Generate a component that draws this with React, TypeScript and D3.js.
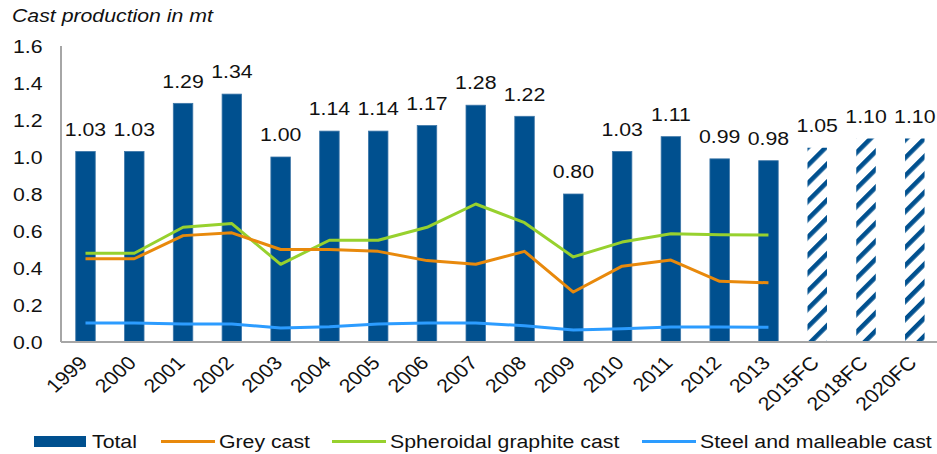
import React from "react";
import * as d3 from "d3";

const categories = ["1999","2000","2001","2002","2003","2004","2005","2006","2007","2008","2009","2010","2011","2012","2013","2015FC","2018FC","2020FC"];
const forecast = [false,false,false,false,false,false,false,false,false,false,false,false,false,false,false,true,true,true];
const total = [1.03,1.03,1.29,1.34,1.00,1.14,1.14,1.17,1.28,1.22,0.80,1.03,1.11,0.99,0.98,1.05,1.10,1.10];
const greyCast = [0.45,0.45,0.575,0.59,0.50,0.50,0.49,0.44,0.42,0.49,0.27,0.41,0.443,0.328,0.32];
const spheroidal = [0.48,0.48,0.62,0.64,0.42,0.55,0.55,0.62,0.746,0.645,0.46,0.54,0.585,0.58,0.578];
const steel = [0.103,0.103,0.097,0.097,0.076,0.083,0.097,0.103,0.103,0.088,0.065,0.072,0.081,0.081,0.08];
const yTicks = [0,0.2,0.4,0.6,0.8,1.0,1.2,1.4,1.6];
const title = "Cast production in mt";
const legendLabels = ["Total","Grey cast","Spheroidal graphite cast","Steel and malleable cast"];

const W = 937, H = 454;
const FONT = "'Liberation Sans', Arial, sans-serif";
const FS = 19;
const SX = 1.12;
const BAR = "#00508F";
const C_GREY = "#E8890C";
const C_SPH = "#97D12E";
const C_STEEL = "#2C9CFF";
const AXIS = "#A6A6A6";

function T({ x, y, anchor = "start", rotate = 0, italic = false, children }: any) {
  const tr = `translate(${x},${y}) scale(${SX},1)` + (rotate ? ` rotate(${rotate})` : "");
  return (
    <text transform={tr} textAnchor={anchor} fontFamily={FONT} fontSize={FS}
      fontStyle={italic ? "italic" : "normal"} fill="#111">{children}</text>
  );
}

export default function App() {
  const x = d3.scaleBand<string>().domain(categories).range([61.1, 939.2]).paddingInner(0.6).paddingOuter(0.3);
  const y = d3.scaleLinear().domain([0, 1.6]).range([342, 46]);
  const cx = (i: number) => (x(categories[i]) as number) + x.bandwidth() / 2;
  const line = d3.line<number>().x((_, i) => cx(i)).y((d) => y(d));

  const series = [
    { data: spheroidal, color: C_SPH },
    { data: greyCast, color: C_GREY },
    { data: steel, color: C_STEEL },
  ];

  const legendX = [34, 161, 332, 642];
  const legendColors = [BAR, C_GREY, C_SPH, C_STEEL];

  return (
    <svg width={W} height={H} style={{ position: "absolute", left: 0, top: 0 }}>
      <defs>
        <pattern id="hatch" patternUnits="userSpaceOnUse" width={12.7} height={12.7} patternTransform="rotate(45)">
          <rect x={0} y={0} width={12.7} height={12.7} fill="#fff" />
          <rect x={0} y={0} width={4.6} height={12.7} fill={BAR} />
        </pattern>
      </defs>
      <rect x={0} y={0} width={W} height={H} fill="#fff" />
      <T x={12} y={21.7} italic>{title}</T>

      {yTicks.map((t) => (
        <T key={t} x={42.5} y={y(t) + 6.8} anchor="end">{t.toFixed(1)}</T>
      ))}

      {total.map((v, i) => (
        <rect key={categories[i]} x={x(categories[i])} y={y(v)} width={x.bandwidth()} height={y(0) - y(v)}
          fill={forecast[i] ? "url(#hatch)" : BAR}
          stroke={forecast[i] ? "none" : "#3E77A8"} strokeWidth={forecast[i] ? 0 : 0.8} />
      ))}

      <line x1={61} x2={W} y1={y(0)} y2={y(0)} stroke={AXIS} strokeWidth={2} />
      <line x1={61} x2={61} y1={y(1.6)} y2={y(0)} stroke={AXIS} strokeWidth={2} />

      {series.map((s, k) => (
        <path key={k} d={line(s.data) as string} fill="none" stroke={s.color} strokeWidth={3} strokeLinejoin="round" />
      ))}

      {total.map((v, i) => (
        <T key={"l" + i} x={cx(i)} y={y(v) - 15.8} anchor="middle">{v.toFixed(2)}</T>
      ))}

      {categories.map((c, i) => (
        <T key={"x" + c} x={cx(i) + 3} y={364} anchor="end" rotate={-45}>{c}</T>
      ))}

      {legendLabels.map((lab, i) => (
        <g key={lab}>
          {i === 0 ? (
            <rect x={legendX[i]} y={436} width={52} height={11} fill={legendColors[i]} />
          ) : (
            <line x1={legendX[i]} x2={legendX[i] + 54} y1={441.5} y2={441.5} stroke={legendColors[i]} strokeWidth={3} />
          )}
          <T x={legendX[i] + 58} y={448.3}>{lab}</T>
        </g>
      ))}
    </svg>
  );
}
